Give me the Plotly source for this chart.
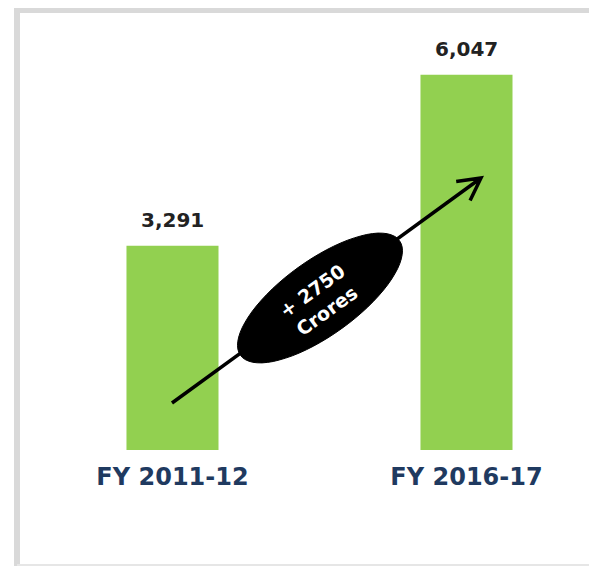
import numpy as np
import plotly.graph_objects as go

categories = ["FY 2011-12", "FY 2016-17"]
values = [3291, 6047]
value_labels = ["3,291", "6,047"]
badge_text = "+ 2750<br>Crores"

W, H = 597, 566
fig = go.Figure()
fig.add_trace(go.Bar(x=[0, 1], y=values, width=0.313, marker_color="#92d050",
                     marker_line_width=0, hoverinfo="skip"))

for i, (v, t) in enumerate(zip(values, value_labels)):
    fig.add_annotation(x=i, y=v, text=t, showarrow=False, yanchor="bottom", yshift=12,
                       font=dict(family="DejaVu Sans", size=20, color="#222222", weight="bold"))

# frame (left + top thick, bottom faint)
fig.add_shape(type="path", xref="paper", yref="paper",
              path=f"M{9/W},{(450-575)/442} L{9/W},{440/442} L1.3,{440/442}",
              line=dict(color="#d9d9d9", width=6), layer="below")
fig.add_shape(type="line", xref="paper", yref="paper", x0=9/W, x1=1.3,
              y0=(450-565)/442, y1=(450-565)/442,
              line=dict(color="#e6e6e6", width=2), layer="below")

# arrow + badge in pixel offsets around badge centre
cx, cy = 0.5017, 2449
ang = np.deg2rad(35.8)
tail = (-148, -105)
head = (161, 120)
d = np.array(head) - np.array(tail)
u = d / np.linalg.norm(d)
rev = -u
def rot(v, a):
    a = np.deg2rad(a)
    return np.array([v[0]*np.cos(a) - v[1]*np.sin(a), v[0]*np.sin(a) + v[1]*np.cos(a)])
w1 = np.array(head) + 25 * rot(rev, 28)
w2 = np.array(head) + 25 * rot(rev, -28)
arrow_path = (f"M{tail[0]},{tail[1]} L{head[0]},{head[1]} "
              f"M{w1[0]:.1f},{w1[1]:.1f} L{head[0]},{head[1]} L{w2[0]:.1f},{w2[1]:.1f}")
fig.add_shape(type="path", xref="x", yref="y", xsizemode="pixel", ysizemode="pixel",
              xanchor=cx, yanchor=cy, path=arrow_path,
              line=dict(color="black", width=3.5))

a_, b_ = 98, 37.5
phi = np.linspace(0, 2*np.pi, 73)
ex = a_*np.cos(phi)*np.cos(ang) - b_*np.sin(phi)*np.sin(ang)
ey = a_*np.cos(phi)*np.sin(ang) + b_*np.sin(phi)*np.cos(ang)
ell_path = "M" + " L".join(f"{x:.1f},{y:.1f}" for x, y in zip(ex, ey)) + " Z"
fig.add_shape(type="path", xref="x", yref="y", xsizemode="pixel", ysizemode="pixel",
              xanchor=cx, yanchor=cy, path=ell_path,
              fillcolor="black", line=dict(color="black", width=1))

fig.add_annotation(x=cx, y=cy, text=badge_text, showarrow=False, textangle=-36,
                   yshift=-3,
                   font=dict(family="DejaVu Sans", size=19, color="white", weight="bold"))

fig.update_layout(
    width=W, height=H, margin=dict(l=0, r=0, t=0, b=124),
    paper_bgcolor="white", plot_bgcolor="white", showlegend=False,
    xaxis=dict(range=[-0.5595, -0.5595 + W/294], tickvals=[0, 1], ticktext=categories,
               showgrid=False, zeroline=False, showline=False, ticks="",
               ticklabelstandoff=10,
               tickfont=dict(family="DejaVu Sans", size=24, color="#1f3a60", weight="bold")),
    yaxis=dict(range=[0, 7121], visible=False),
)
fig.write_html("out.html")
